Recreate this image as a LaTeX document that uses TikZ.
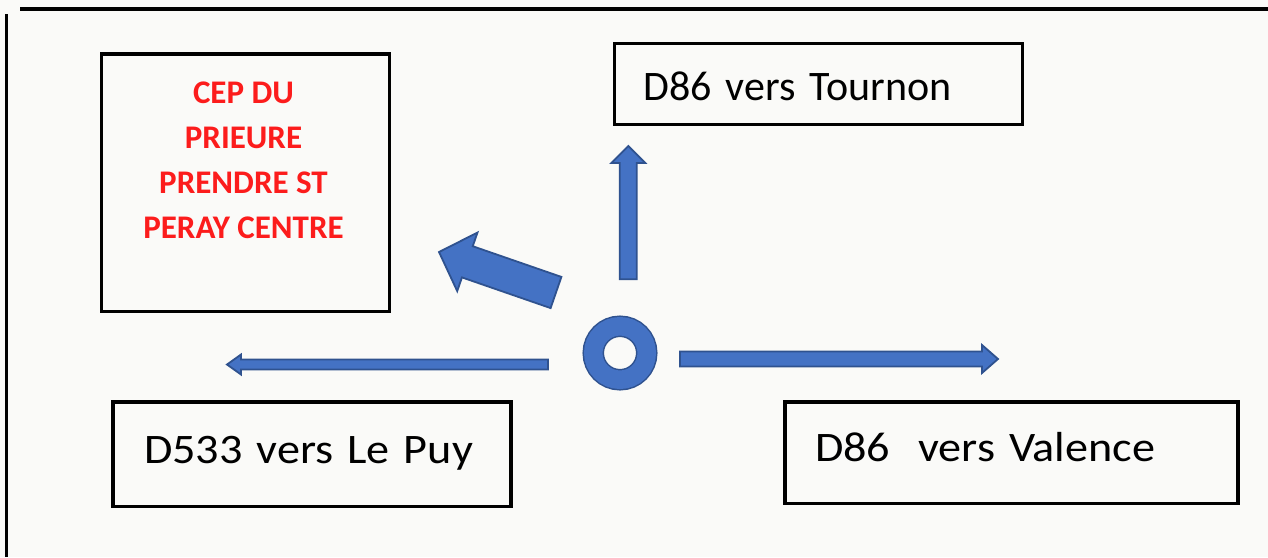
\documentclass[tikz,border=0pt]{standalone}
\usepackage{fontspec}
\setmainfont{Carlito}
\newfontfamily\boxfont{Carlito}
\newfontfamily\boxfontwide{Carlito}[FakeStretch=1.1]
\usetikzlibrary{calc}
\definecolor{arrfill}{RGB}{68,114,196}
\definecolor{arrline}{RGB}{47,82,143}
\definecolor{paper}{RGB}{250,250,248}
\definecolor{cepred}{RGB}{252,28,28}
\tikzset{
  frameline/.style={line width=3.5pt, black},
  signbox/.style={draw=black, line width=3.3pt, rectangle, align=left, text depth=0pt},
  arrowshape/.style={fill=arrfill, draw=arrline, line width=1.8pt, line join=miter},
}
% #1 from, #2 to, #3 half shaft, #4 half head, #5 head length
\newcommand\blockarrow[5]{%
  \path[arrowshape] let \p1=($(#2)-(#1)$), \n1={atan2(\y1,\x1)}, \n2={veclen(\x1,\y1)} in
   [shift={(#1)}, rotate=\n1]
   (0pt,{#3*1pt}) -- ({\n2*1pt-#5*1pt},{#3*1pt}) -- ({\n2*1pt-#5*1pt},{#4*1pt}) -- ({\n2*1pt},0pt)
   -- ({\n2*1pt-#5*1pt},{-#4*1pt}) -- ({\n2*1pt-#5*1pt},{-#3*1pt}) -- (0pt,{-#3*1pt}) -- cycle;}
\begin{document}
\begin{tikzpicture}[x=1pt,y=-1pt]
\useasboundingbox (0,0) rectangle (1268,557);
\fill[paper] (0,0) rectangle (1268,557);
% frame lines
\draw[frameline] (20,9) -- (1268,9);
\draw[frameline] (6.7,14) -- (6.7,557);
% CEP box
\node (cepbox) [draw=black, line width=3.3pt, minimum width=288pt, minimum height=257.7pt, inner sep=0pt] at (245.25,182.85) {};
\node (ceptxt) [text=cepred, font=\fontsize{33}{45}\selectfont\bfseries, align=center, inner sep=0pt] at (243.5,160.5) {CEP DU\\PRIEURE\\PRENDRE ST\\PERAY CENTRE};
% sign boxes
\node (tournon) [signbox, inner xsep=29pt, text width=350pt, minimum height=81pt, text height=33.8pt, font=\boxfont\fontsize{42}{50}\selectfont] at (818.3,83.8) {D86 vers Tournon};
\node (puy) [signbox, inner xsep=31pt, text width=336pt, minimum height=104.7pt, text height=18pt, font=\boxfontwide\fontsize{42}{50}\selectfont] at (312,454.35) {D533 vers Le Puy};
\node (valence) [signbox, inner xsep=30pt, text width=393pt, minimum height=101.3pt, text height=18pt, font=\boxfontwide\fontsize{42}{50}\selectfont] at (1011.5,452.65) {D86~ vers Valence};
% roundabout
\node (ring) [circle, draw=arrline, double=arrfill, double distance=18.5pt, line width=1.5pt, minimum size=53.5pt, inner sep=0pt] at (620,353) {};
% arrow end points
\coordinate (upS) at (628.3,279.3);
\coordinate (upE) at (628.3,146);
\coordinate (rtS) at (680,359);
\coordinate (rtE) at (998,359);
\coordinate (ltS) at (548,364.5);
\coordinate (ltE) at (227,364.5);
\coordinate (cpS) at (556,292.5);
\coordinate (cpE) at (439,252);
\blockarrow{upS}{upE}{8.5}{17}{17}
\blockarrow{rtS}{rtE}{7.5}{14}{16}
\blockarrow{ltS}{ltE}{5}{10}{14}
\blockarrow{cpS}{cpE}{16.5}{31}{30}
\end{tikzpicture}
\end{document}
